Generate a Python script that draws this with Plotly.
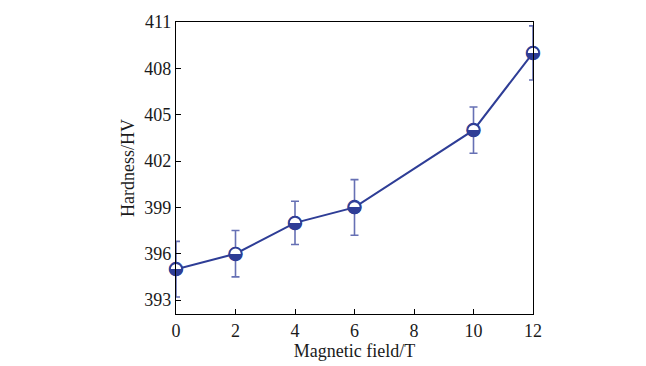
import plotly.graph_objects as go

field = [0, 2, 4, 6, 10, 12]
hardness = [395, 396, 398, 399, 404, 409]
err = [1.8, 1.5, 1.4, 1.8, 1.5, 1.75]
y_ticks = [393, 396, 399, 402, 405, 408, 411]
x_ticks = [0, 2, 4, 6, 8, 10, 12]

LINE = "#2e3d96"
ERR = "#6670b4"
FONT = "Liberation Serif"
TXT = "#1a1a1a"

fig = go.Figure()
fig.add_trace(go.Scatter(
    x=field, y=hardness, mode="lines",
    line=dict(color=LINE, width=2),
    error_y=dict(type="data", array=err, visible=True, color=ERR, thickness=1.6, width=4),
    cliponaxis=False, showlegend=False,
))
fig.add_trace(go.Scatter(
    x=field, y=hardness, mode="markers",
    marker=dict(symbol="circle", size=12, color="white", line=dict(width=1.6, color=LINE)),
    cliponaxis=False, showlegend=False,
))
fig.add_trace(go.Scatter(
    x=field, y=hardness, mode="text", text=["◒"] * len(field),
    textposition="middle center",
    textfont=dict(family="DejaVu Sans", size=19, color=LINE),
    cliponaxis=False, showlegend=False,
))

axis_common = dict(
    showline=True, linecolor="black", linewidth=1.3, mirror=True,
    ticks="inside", ticklen=5, tickcolor="black", tickwidth=1.3,
    showgrid=False, zeroline=False, automargin=False,
    tickfont=dict(family=FONT, size=18, color=TXT),
)
fig.update_xaxes(range=[0, 12], tickvals=x_ticks,
                 title=dict(text="Magnetic field/T", font=dict(family=FONT, size=18, color=TXT), standoff=4),
                 **axis_common)
fig.update_yaxes(range=[392.1, 411], tickvals=y_ticks,
                 title=dict(text="Hardness/HV", font=dict(family=FONT, size=18, color=TXT), standoff=4),
                 **axis_common)
fig.update_layout(
    width=638, height=358,
    margin=dict(l=168, r=113, t=14, b=52),
    paper_bgcolor="white", plot_bgcolor="white",
)
fig.write_html("out.html")
